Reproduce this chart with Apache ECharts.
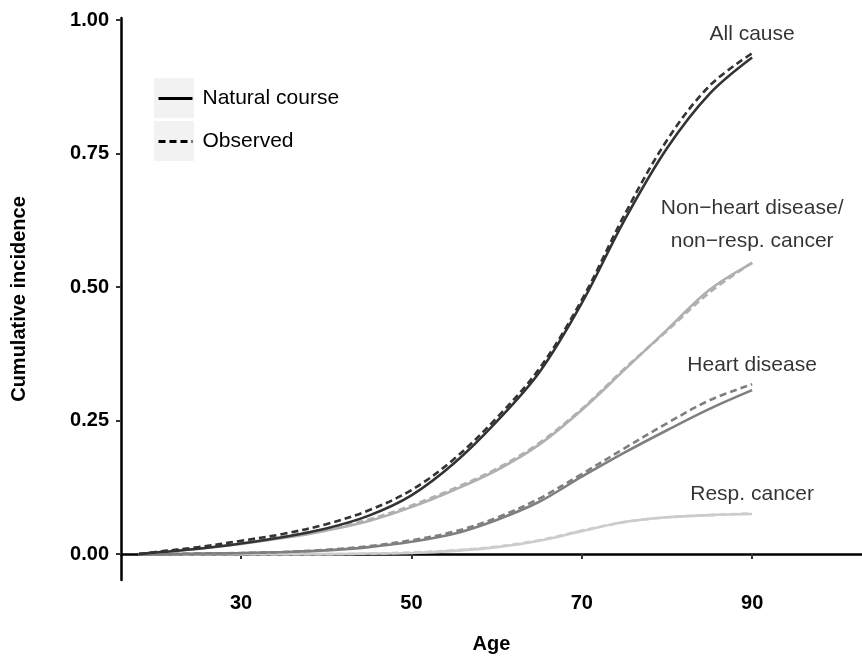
<!DOCTYPE html>
<html>
<head>
<meta charset="utf-8">
<script src="https://cdn.jsdelivr.net/npm/echarts@6/dist/echarts.min.js"></script>
<style>
html, body { margin: 0; padding: 0; background: #fff; }
#main { width: 862px; height: 659px; }
</style>
</head>
<body>
<div id="main"></div>
<script>
// 年龄
var ages = [18, 20, 25, 30, 35, 40, 45, 50, 55, 60, 65, 70, 75, 80, 85, 90];
// All cause
var allNatural = [0, 0.003, 0.010, 0.020, 0.032, 0.048, 0.072, 0.110, 0.170, 0.248, 0.340, 0.470, 0.625, 0.760, 0.862, 0.930];
var allObserved = [0, 0.004, 0.013, 0.025, 0.038, 0.056, 0.082, 0.120, 0.178, 0.255, 0.347, 0.476, 0.635, 0.775, 0.877, 0.938];
// Non-heart disease / non-resp. cancer
var otherNatural = [0, 0.003, 0.010, 0.019, 0.030, 0.044, 0.062, 0.088, 0.120, 0.157, 0.205, 0.270, 0.345, 0.420, 0.495, 0.545];
var otherObserved = [0, 0.004, 0.012, 0.022, 0.033, 0.047, 0.065, 0.091, 0.123, 0.160, 0.208, 0.272, 0.347, 0.418, 0.490, 0.546];
// Heart disease
var heartNatural = [0, 0, 0.001, 0.002, 0.004, 0.007, 0.013, 0.023, 0.038, 0.064, 0.098, 0.145, 0.190, 0.232, 0.272, 0.307];
var heartObserved = [0, 0, 0.001, 0.002, 0.004, 0.008, 0.015, 0.026, 0.042, 0.068, 0.104, 0.150, 0.198, 0.245, 0.288, 0.318];
// Resp. cancer
var respNatural = [0, 0, 0, 0, 0, 0, 0.001, 0.002, 0.006, 0.013, 0.025, 0.043, 0.060, 0.069, 0.073, 0.075];
var respObserved = [0, 0, 0, 0, 0, 0, 0.001, 0.003, 0.007, 0.014, 0.026, 0.044, 0.060, 0.069, 0.073, 0.076];

// 标签
var causeLabels = ['All cause', 'Non\u2212heart disease/\nnon\u2212resp. cancer', 'Heart disease', 'Resp. cancer'];
var labelAge = 90;
var labelValues = [0.974, 0.6175, 0.353, 0.112];
var xTicks = [30, 50, 70, 90];
var yTicks = [0, 0.25, 0.5, 0.75, 1];

var Chart = function() {
    var t = {
        font : 'Liberation Sans, Arial, Helvetica, sans-serif',
        pair : function(values) {
            var out = [];
            for (var i = 0; i < ages.length; i++) {
                out.push([ ages[i], values[i] ]);
            }
            return out;
        },
        line : function(name, values, color, dashed) {
            return {
                name : name,
                type : 'line',
                data : t.pair(values),
                smooth : 0.35,
                symbol : 'none',
                symbolSize : 0,
                silent : true,
                itemStyle : { color : color },
                lineStyle : {
                    color : color,
                    width : 2.6,
                    type : dashed ? [ 7, 4 ] : 'solid'
                }
            };
        },
        init : function() {
            var myChart = echarts.init(document.getElementById('main'));
            var labelData = [];
            for (var i = 0; i < causeLabels.length; i++) {
                labelData.push({ value : [ labelAge, labelValues[i] ], name : causeLabels[i] });
            }
            var option = {
                animation : false,
                backgroundColor : '#ffffff',
                grid : { left : 121, right : 0, top : 18, bottom : 77 },
                legend : {
                    orient : 'vertical',
                    left : 157,
                    top : 88,
                    padding : 0,
                    itemWidth : 34,
                    itemHeight : 22,
                    itemGap : 22,
                    itemStyle : { opacity : 0 },
                    lineStyle : { width : 3 },
                    data : [ 'Natural course', 'Observed' ],
                    textStyle : { fontFamily : t.font, fontSize : 21, color : '#000', padding : [ 0, 0, 0, 5 ] }
                },
                graphic : [
                    { type : 'rect', z : 0, shape : { x : 154, y : 78, width : 40, height : 40 }, style : { fill : '#f2f2f2' } },
                    { type : 'rect', z : 0, shape : { x : 154, y : 121, width : 40, height : 40 }, style : { fill : '#f2f2f2' } }
                ],
                xAxis : {
                    type : 'value',
                    min : 15.9,
                    max : 102.9,
                    name : 'Age',
                    nameLocation : 'middle',
                    nameGap : 54,
                    nameTextStyle : { fontFamily : t.font, fontSize : 20, fontWeight : 'bold', color : '#000' },
                    splitLine : { show : false },
                    axisLine : { lineStyle : { color : '#000', width : 2.5 } },
                    axisTick : { customValues : xTicks, length : 5, lineStyle : { color : '#333', width : 2 } },
                    axisLabel : { customValues : xTicks, margin : 13, fontFamily : t.font, fontSize : 20, fontWeight : 'bold', color : '#000' }
                },
                yAxis : {
                    type : 'value',
                    min : -0.0485,
                    max : 1.004,
                    name : 'Cumulative incidence',
                    nameLocation : 'middle',
                    nameGap : 92,
                    nameTextStyle : { fontFamily : t.font, fontSize : 20, fontWeight : 'bold', color : '#000' },
                    splitLine : { show : false },
                    axisLine : { show : true, lineStyle : { color : '#000', width : 2.5 } },
                    axisTick : { show : true, customValues : yTicks, length : 5, lineStyle : { color : '#333', width : 2 } },
                    axisLabel : {
                        customValues : yTicks,
                        margin : 12,
                        fontFamily : t.font,
                        fontSize : 20,
                        fontWeight : 'bold',
                        color : '#000',
                        formatter : function(v) {
                            return v.toFixed(2);
                        }
                    }
                },
                series : [
                    t.line('Natural course', [], '#000000', false),
                    t.line('Observed', [], '#000000', true),
                    t.line('resp-n', respNatural, '#cccccc', false),
                    t.line('resp-o', respObserved, '#cccccc', true),
                    t.line('heart-n', heartNatural, '#7f7f7f', false),
                    t.line('heart-o', heartObserved, '#7f7f7f', true),
                    t.line('other-n', otherNatural, '#b0b0b0', false),
                    t.line('other-o', otherObserved, '#b0b0b0', true),
                    t.line('all-n', allNatural, '#333333', false),
                    t.line('all-o', allObserved, '#333333', true),
                    {
                        name : 'labels',
                        type : 'scatter',
                        symbolSize : 0,
                        silent : true,
                        data : labelData,
                        label : {
                            show : true,
                            position : 'inside',
                            formatter : function(p) {
                                return p.name;
                            },
                            fontFamily : t.font,
                            fontSize : 21,
                            lineHeight : 33,
                            color : '#000',
                            align : 'center',
                            verticalAlign : 'middle'
                        }
                    }
                ]
            };
            myChart.setOption(option);
        }
    };
    return t;
}();
Chart.init();
</script>
</body>
</html>
